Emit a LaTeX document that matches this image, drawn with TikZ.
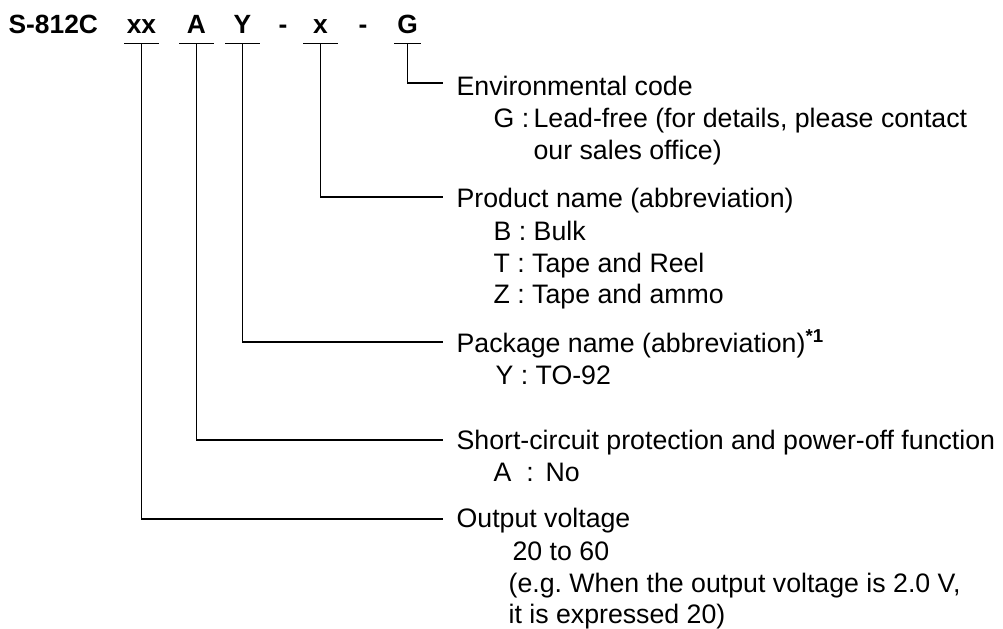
\documentclass[tikz,border=0pt]{standalone}
\usepackage{fontspec}
\setmainfont{Liberation Sans}
\frenchspacing
\begin{document}
\begin{tikzpicture}[scale=0.2, line width=0.7pt]
        \tikzstyle{every node}+=[inner sep=0pt]
        \tikzstyle{code}=[font=\fontsize{15}{18}\selectfont\bfseries, anchor=base, text depth=0pt, inner ysep=5.7pt]
        \tikzstyle{txt}=[font=\fontsize{15.2}{18}\selectfont, anchor=base west]
        \useasboundingbox (0,0) rectangle (100.3,-62.8);
        % product code
        \draw (0.8,-3.3) node [code, anchor=base west] (pre) {S-812C};
        \draw (14.15,-3.3) node [code, minimum width=18.8pt] (vout) {xx};
        \draw (19.65,-3.3) node [code, minimum width=18.8pt] (func) {A};
        \draw (24.25,-3.3) node [code, minimum width=18.8pt] (pkg) {Y};
        \draw (28.3,-3.3) node [code] (dasha) {-};
        \draw (32.05,-3.3) node [code, minimum width=18.8pt] (prod) {x};
        \draw (36.3,-3.3) node [code] (dashb) {-};
        \draw (40.75,-3.3) node [code, minimum width=14.2pt] (env) {G};
        % line ends
        \coordinate (env-end) at (44.3,-8.3);
        \coordinate (prod-end) at (44.3,-19.7);
        \coordinate (pkg-end) at (44.3,-34.2);
        \coordinate (func-end) at (44.3,-44.0);
        \coordinate (vout-end) at (44.3,-51.9);
        \foreach \n in {vout,func,pkg,prod,env} {
            \draw (\n.south west) -- (\n.south east);
            \draw (\n.south) |- (\n-end);
        }
        % environmental code
        \draw (45.6,-9.5) node [txt] (envh) {Environmental code};
        \draw (49.3,-12.7) node [txt] (envk) {G :};
        \draw (53.3,-12.7) node [txt] (envv) {Lead-free (for details, please contact};
        \draw (53.3,-15.9) node [txt] (envw) {our sales office)};
        % product name
        \draw (45.6,-20.7) node [txt] (prodh) {Product name (abbreviation)};
        \draw (49.3,-24.0) node [txt] (prodk) {B : Bulk};
        \draw (49.3,-27.2) node [txt] (prodl) {T : Tape and Reel};
        \draw (49.3,-30.3) node [txt] (prodm) {Z : Tape and ammo};
        % package name
        \draw (45.6,-35.2) node [txt] (pkgh) {Package name (abbreviation)\textsuperscript{\bfseries *1}};
        \draw (49.5,-38.4) node [txt] (pkgk) {Y : TO-92};
        % function
        \draw (45.6,-44.9) node [txt] (funch) {Short-circuit protection and power-off function};
        \draw (49.3,-48.1) node [txt] (funck) {A \ : \,No};
        % output voltage
        \draw (45.6,-52.7) node [txt] (vouth) {Output voltage};
        \draw (51.2,-56.0) node [txt] (voutk) {20 to 60};
        \draw (50.8,-59.2) node [txt] (voutl) {(e.g. When the output voltage is 2.0 V,};
        \draw (50.8,-62.3) node [txt] (voutm) {it is expressed 20)};
\end{tikzpicture}
\end{document}
